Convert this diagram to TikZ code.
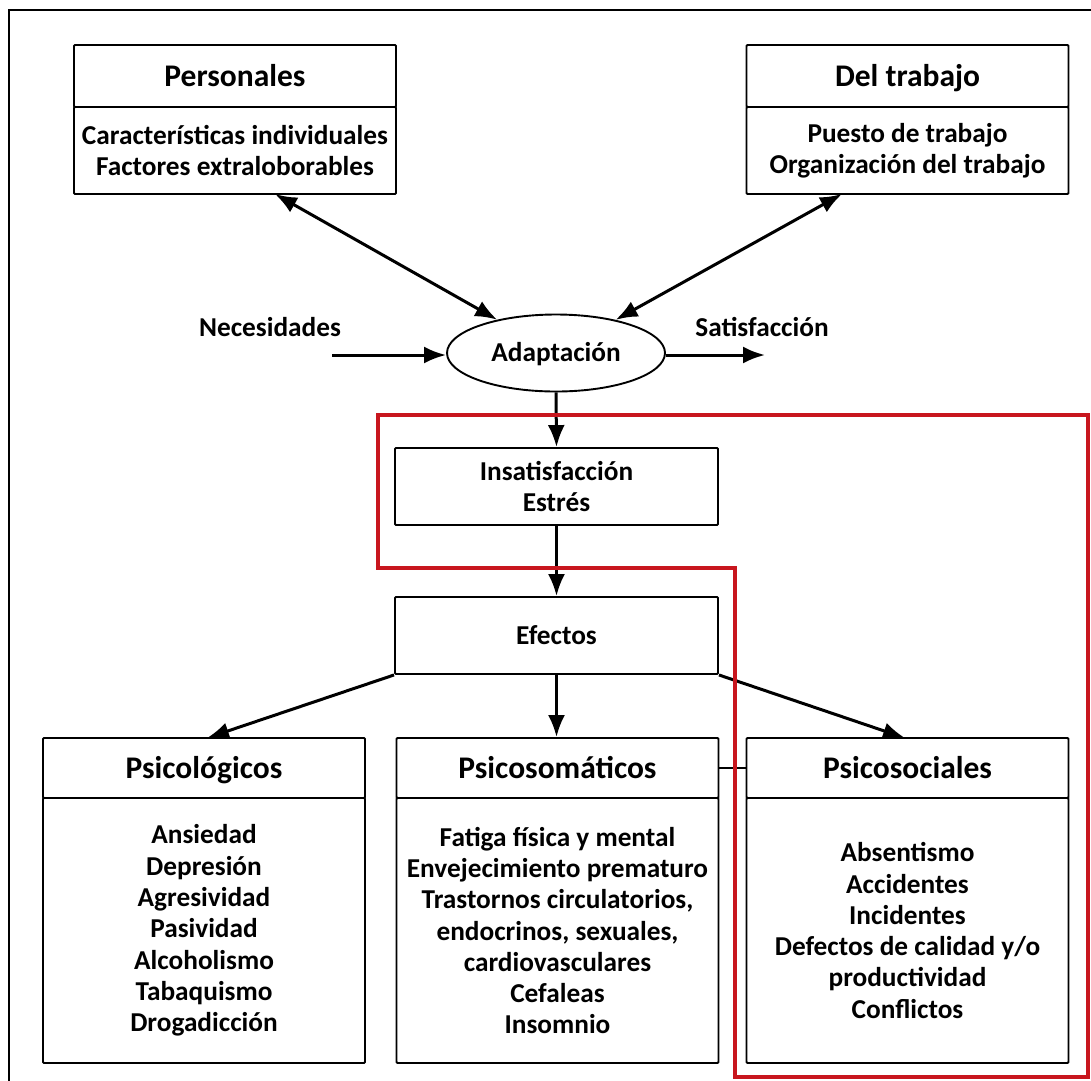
\documentclass[tikz,border=0pt]{standalone}
\usepackage{fontspec}
\setmainfont{Carlito}
\usetikzlibrary{shapes.geometric,arrows.meta}
\definecolor{frameRed}{RGB}{200,22,30}
\newcommand{\hdrtxt}{\fontsize{31.5}{36}\selectfont\bfseries}
\newcommand{\bdtxt}{\fontsize{27.3}{31.3}\selectfont\bfseries}
\begin{document}
\begin{tikzpicture}[x=1pt,y=-1pt,
  box/.style={draw, line width=1.9pt, inner sep=0pt, align=center, rounded corners=1pt},
  hdrbox/.style={box, minimum width=322pt, font=\hdrtxt, text height=20pt, text depth=0pt},
  bodybox/.style={box, minimum width=322pt, font=\bdtxt},
  lbl/.style={inner sep=0pt, font=\bdtxt, text height=17.5pt, text depth=0pt},
  arr/.style={line width=3pt, -{Latex[length=22pt,width=17pt]}},
  darr/.style={line width=3pt, {Latex[length=22pt,width=17pt]}-{Latex[length=22pt,width=17pt]}}]
\useasboundingbox (0,0) rectangle (1091,1080);
% outer frame
\draw[line width=1.8pt] (9,1100) -- (9,10) -- (1100,10);

% top boxes
\node[hdrbox, minimum height=62pt] (persh) at (235,76) {Personales};
\node[bodybox, minimum height=87pt] (persb) at (235,150.5) {Características individuales\\Factores extraloborables};
\node[hdrbox, minimum height=62pt] (trabh) at (907.5,76) {Del trabajo};
\node[bodybox, minimum height=87pt] (trabb) at (907.5,150.5) {Puesto de trabajo\\Organización del trabajo};

% ellipse
\node[ellipse, draw, line width=1.9pt, minimum width=218pt, minimum height=77pt, inner sep=0pt, font=\bdtxt, text height=17.5pt, text depth=0pt] (ad) at (556,353) {Adaptación};

\node[lbl] (nec) at (270,328) {Necesidades};
\node[lbl] (sat) at (762,328) {Satisfacción};
\coordinate (necs) at (332,355);
\coordinate (sate) at (765,355);

% middle boxes
\node[bodybox, minimum width=323pt, minimum height=77pt] (insat) at (556.5,486.5) {Insatisfacción\\Estrés};
\node[bodybox, minimum width=323pt, minimum height=77pt, text height=17.5pt, text depth=0pt] (efec) at (556.5,635.5) {Efectos};

% bottom boxes
\node[hdrbox, minimum height=60pt] (psih) at (204,768) {Psicológicos};
\node[bodybox, minimum height=265pt] (psib) at (204,930.5) {Ansiedad\\Depresión\\Agresividad\\Pasividad\\Alcoholismo\\Tabaquismo\\Drogadicción};
\node[hdrbox, minimum height=60pt] (somh) at (557.5,768) {Psicosomáticos};
\node[bodybox, minimum height=265pt] (somb) at (557.5,930.5) {Fatiga física y mental\\Envejecimiento prematuro\\Trastornos circulatorios,\\endocrinos, sexuales,\\cardiovasculares\\Cefaleas\\Insomnio};
\node[hdrbox, minimum height=60pt] (soch) at (907.5,768) {Psicosociales};
\node[bodybox, minimum height=265pt] (socb) at (907.5,930.5) {Absentismo\\Accidentes\\Incidentes\\Defectos de calidad y/o\\productividad\\Conflictos};

% connectors
\coordinate (pa) at (275,194);
\coordinate (ta) at (842,194);
\draw[darr] (pa) -- (ad);
\draw[darr] (ta) -- (ad);
\draw[arr] (necs) -- (ad.west |- necs);
\draw[arr] (ad.east |- sate) -- (sate);
\draw[arr] (ad.south) -- (insat.north);
\draw[arr] (insat.south) -- (efec.north);
\draw[arr] (efec.south) -- (efec.south |- somh.north);
\coordinate (psit) at (207,738);
\coordinate (soct) at (905,738);
\draw[arr] (efec.south west) -- (psit);
\draw[arr] (efec.south east) -- (soct);
\draw[line width=1.9pt] (somh.east) -- (soch.west);

% red outline
\draw[frameRed, line width=4.5pt, line join=miter] (378,415) -- (1088,415) -- (1088,1077) -- (735,1077) -- (735,568) -- (378,568) -- cycle;
\end{tikzpicture}
\end{document}
